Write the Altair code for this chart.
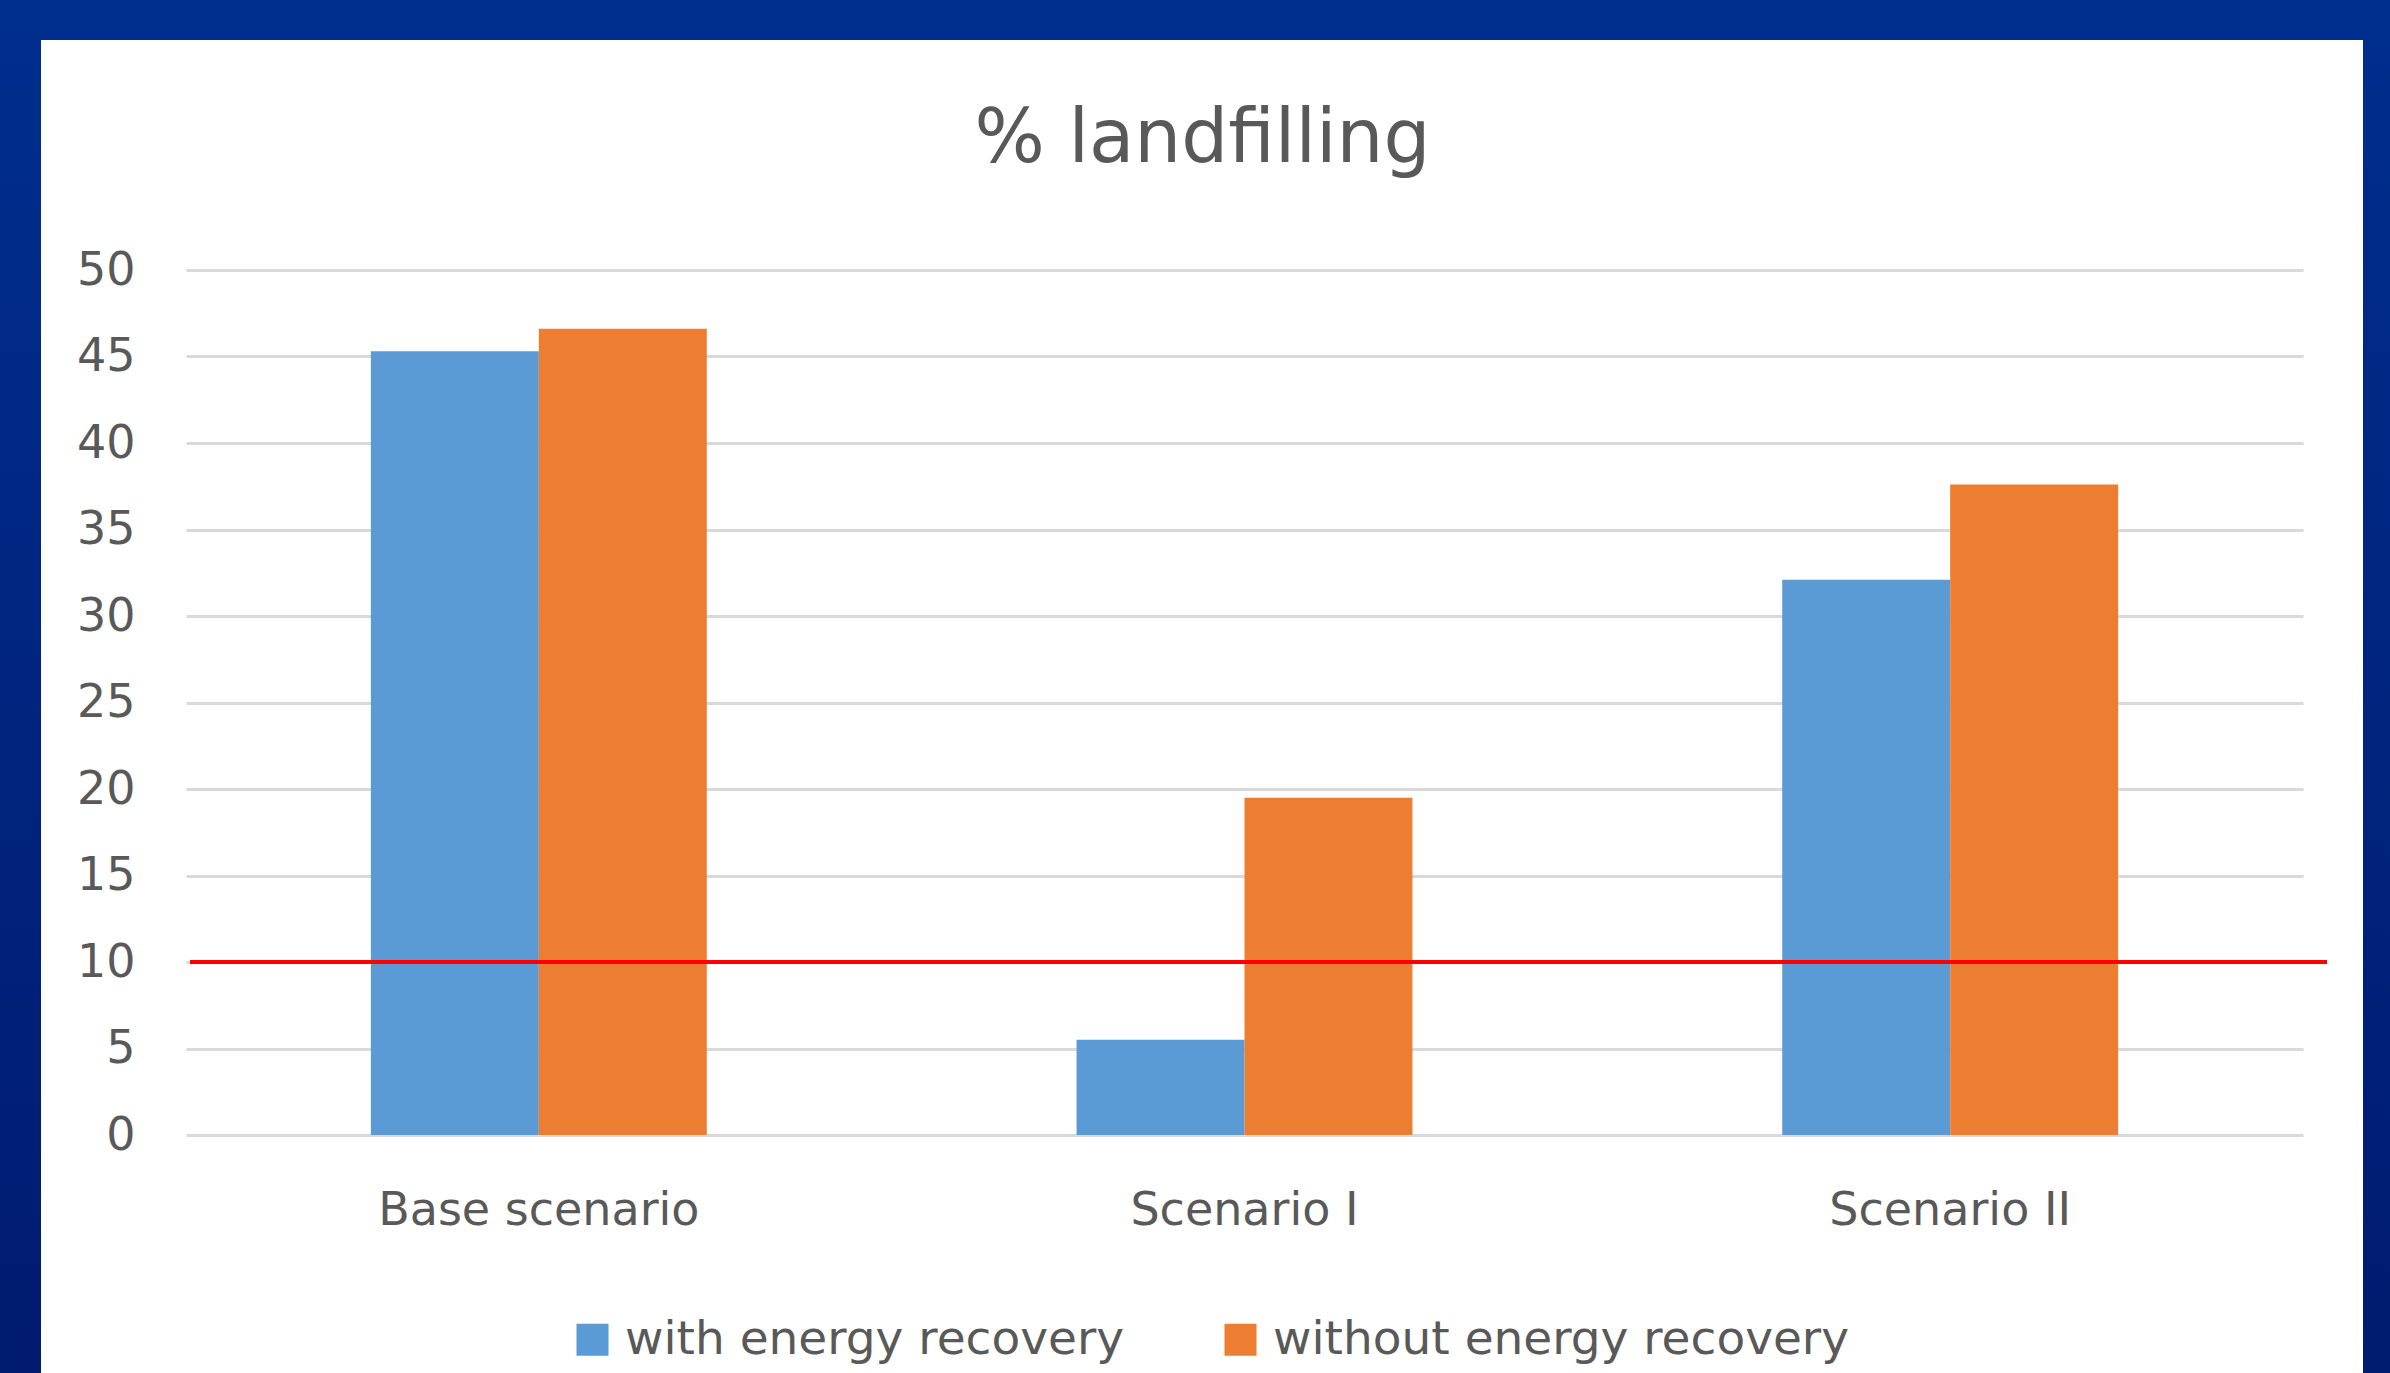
import altair as alt
import pandas as pd

# ---- data ----
categories = ["Base scenario", "Scenario I", "Scenario II"]
series = ["with energy recovery", "without energy recovery"]
with_recovery = [45.3, 5.5, 32.1]
without_recovery = [46.6, 19.5, 37.6]
y_ticks = [0, 5, 10, 15, 20, 25, 30, 35, 40, 45, 50]
target_value = [10]
chart_title = "% landfilling"

rows = []
for c, a, b in zip(categories, with_recovery, without_recovery):
    rows.append({"scenario": c, "series": series[0], "value": a})
    rows.append({"scenario": c, "series": series[1], "value": b})
df = pd.DataFrame(rows)
target_df = pd.DataFrame({"target": target_value})

# ---- layout ----
W, H = 2117, 865
PAD_L, PAD_T, PAD_R, PAD_B = 186, 270, 87, 238
FONT = "DejaVu Sans"
TXT = "#595959"
BLUE_TOP, BLUE_BOT = "#002E8E", "#001B70"

one = alt.Data(values=[{}])
vgrad = alt.LinearGradient(
    gradient="linear",
    stops=[alt.GradientStop(color=BLUE_TOP, offset=0), alt.GradientStop(color=BLUE_BOT, offset=1)],
    x1=0, x2=0, y1=0, y2=1,
)

def frame_rect(x0, x1, y0, y1, fill):
    return alt.Chart(one).mark_rect(fill=fill, strokeWidth=0).encode(
        x=alt.value(x0 - PAD_L), x2=alt.value(x1 - PAD_L),
        y=alt.value(y0 - PAD_T), y2=alt.value(y1 - PAD_T),
    )

top_band = frame_rect(0, 2390, 0, 40, BLUE_TOP)
left_band = frame_rect(0, 41, 0, 1373, vgrad)
right_band = frame_rect(2363, 2390, 0, 1373, vgrad)

bars = alt.Chart(df).mark_bar().encode(
    x=alt.X(
        "scenario:N", sort=categories,
        scale=alt.Scale(paddingInner=0.524, paddingOuter=0.262),
        axis=alt.Axis(title=None, labelAngle=0, labelFontSize=46, labelColor=TXT, labelFont=FONT,
                      labelBaseline="alphabetic", labelPadding=89, ticks=False, domain=False,
                      grid=False, labelLimit=1000),
    ),
    xOffset=alt.XOffset("series:N", sort=series),
    y=alt.Y(
        "value:Q",
        scale=alt.Scale(domain=[0, 50], nice=False),
        axis=alt.Axis(values=y_ticks, title=None, grid=True, gridColor="#D9D9D9", gridWidth=3,
                      domain=False, ticks=False, labelFontSize=46, labelColor=TXT, labelFont=FONT,
                      labelPadding=51),
    ),
    color=alt.Color(
        "series:N", sort=series,
        scale=alt.Scale(domain=series, range=["#5B9BD5", "#ED7D31"]),
        legend=alt.Legend(
            title=None, orient="none", direction="horizontal", legendX=383, legendY=1046,
            symbolType="square", symbolSize=1024, symbolStrokeWidth=0, labelFontSize=47,
            labelFont=FONT, labelColor=TXT, labelOffset=9, columnPadding=92, labelLimit=2000,
            padding=0,
        ),
    ),
)

target_rule = alt.Chart(target_df).mark_rule(color="#FF0000", strokeWidth=4).encode(
    y="target:Q", x=alt.value(4), x2=alt.value(2141),
)

chart = alt.layer(top_band, left_band, right_band, bars, target_rule).properties(
    width=W, height=H,
    title=alt.TitleParams(chart_title, fontSize=74, font=FONT, color=TXT, fontWeight="normal",
                          anchor="middle", dx=-42, baseline="alphabetic", offset=0, dy=236),
    padding={"left": PAD_L, "top": PAD_T, "right": PAD_R, "bottom": PAD_B},
    autosize=alt.AutoSizeParams(type="none"),
).configure(background="white").configure_view(stroke=None)

chart.save("out.html", embed_options={"renderer": "svg", "actions": False})
